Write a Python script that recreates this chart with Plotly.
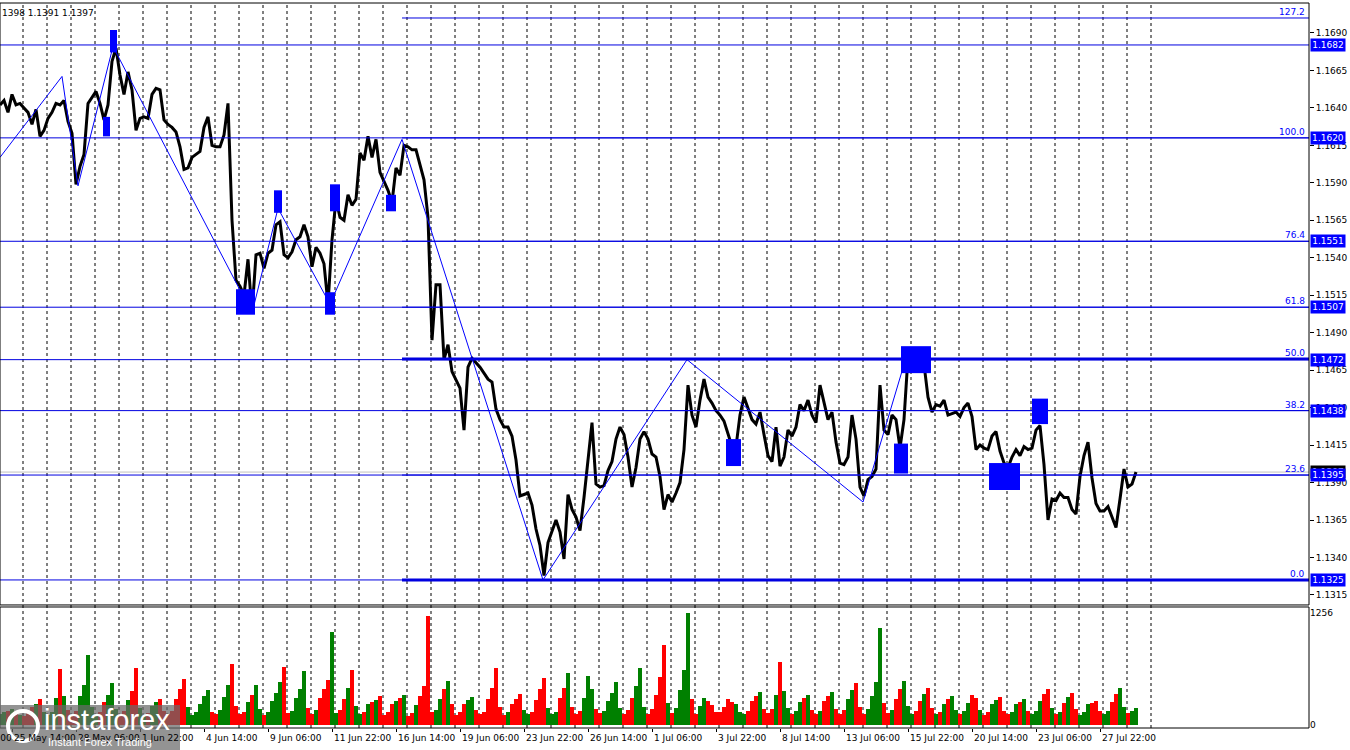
import plotly.graph_objects as go

# EURUSD H1, one close every 4 bars
bar_step = 4
price_close = [
    1.1642, 1.1645, 1.1637, 1.1649, 1.1642, 1.1643, 1.1640, 1.1637, 1.1629, 1.1639,
    1.1621, 1.1625, 1.1633, 1.1637, 1.1643, 1.1642, 1.1645, 1.1631, 1.1623, 1.1589,
    1.1601, 1.1609, 1.1643, 1.1647, 1.1651, 1.1643, 1.1632, 1.1642, 1.1671, 1.1680,
    1.1662, 1.1649, 1.1664, 1.1652, 1.1625, 1.1633, 1.1634, 1.1633, 1.1649, 1.1653,
    1.1652, 1.1632, 1.1629, 1.1627, 1.1624, 1.1614, 1.1599, 1.1600, 1.1607, 1.1609,
    1.1611, 1.1627, 1.1634, 1.1615, 1.1614, 1.1614, 1.1622, 1.1643, 1.1565, 1.1525,
    1.1521, 1.1515, 1.1539, 1.1503, 1.1542, 1.1543, 1.1533, 1.1543, 1.1545, 1.1562,
    1.1564, 1.1542, 1.1540, 1.1544, 1.1552, 1.1554, 1.1562, 1.1554, 1.1534, 1.1547,
    1.1543, 1.1536, 1.1509, 1.1552, 1.1579, 1.1567, 1.1565, 1.1582, 1.1575, 1.1579,
    1.1610, 1.1605, 1.1621, 1.1607, 1.1619, 1.1597, 1.1591, 1.1585, 1.1577, 1.1600,
    1.1595, 1.1615, 1.1614, 1.1612, 1.1612, 1.1601, 1.1592, 1.1567, 1.1485, 1.1522,
    1.1522, 1.1472, 1.1482, 1.1464, 1.1459, 1.1453, 1.1425, 1.1467, 1.1473, 1.1470,
    1.1467, 1.1463, 1.1459, 1.1457, 1.1439, 1.1432, 1.1427, 1.1427, 1.1421, 1.1405,
    1.1381, 1.1382, 1.1383, 1.1375, 1.1359, 1.1348, 1.1328, 1.1350, 1.1357, 1.1365,
    1.1357, 1.1339, 1.1382, 1.1372, 1.1367, 1.1358, 1.1380, 1.1405, 1.1430, 1.1389,
    1.1387, 1.1388, 1.1398, 1.1404, 1.1419, 1.1427, 1.1422, 1.1407, 1.1387, 1.1400,
    1.1419, 1.1424, 1.1419, 1.1409, 1.1407, 1.1394, 1.1372, 1.1382, 1.1377, 1.1383,
    1.1390, 1.1412, 1.1455, 1.1435, 1.1427, 1.1445, 1.1459, 1.1447, 1.1443, 1.1438,
    1.1435, 1.1431, 1.1422, 1.1414, 1.1414, 1.1435, 1.1447, 1.1439, 1.1432, 1.1429,
    1.1437, 1.1422, 1.1408, 1.1404, 1.1427, 1.1401, 1.1407, 1.1425, 1.1421, 1.1427,
    1.1442, 1.1438, 1.1445, 1.1435, 1.1430, 1.1455, 1.1443, 1.1432, 1.1437, 1.1417,
    1.1403, 1.1402, 1.1407, 1.1435, 1.1419, 1.1387, 1.1381, 1.1392, 1.1394, 1.1399,
    1.1455, 1.1425, 1.1422, 1.1435, 1.1432, 1.1413, 1.1432, 1.1474, 1.1474, 1.1469,
    1.1467, 1.1469, 1.1447, 1.1437, 1.1442, 1.1441, 1.1445, 1.1435, 1.1436, 1.1437,
    1.1434, 1.1440, 1.1443, 1.1434, 1.1412, 1.1415, 1.1413, 1.1412, 1.1421, 1.1424,
    1.1411, 1.1403, 1.1400, 1.1407, 1.1412, 1.1408, 1.1414, 1.1412, 1.1413, 1.1425,
    1.1428, 1.1402, 1.1365, 1.1379, 1.1378, 1.1383, 1.1380, 1.1380, 1.1372, 1.1369,
    1.1394, 1.1408, 1.1417, 1.1393, 1.1376, 1.1371, 1.1371, 1.1374, 1.1367, 1.1360,
    1.1379, 1.1399, 1.1387, 1.1389, 1.1397,
]
volume = [
    120, 140, 160, 180, 150, 110,   100, 140, 200, 240, 290, 150,
    110, 150, 300, 625, 330, 170,   100, 160, 320, 450, 780, 200,
    110, 150, 260, 340, 470, 180,   120, 160, 280, 380, 640, 190,
    100, 130, 210, 260, 295, 160,   120, 160, 290, 400, 510, 200,
    110, 150, 240, 320, 390, 150,   120, 170, 310, 450, 680, 210,
    120, 150, 260, 340, 445, 180,   110, 140, 270, 360, 480, 650,
    130, 160, 300, 400, 607, 190,   120, 170, 300, 400, 500, 1040,
    130, 170, 290, 420, 620, 210,   120, 150, 240, 260, 280, 330,
    110, 140, 230, 270, 300, 335,   100, 130, 220, 330, 440, 1225,
    140, 170, 290, 400, 497, 230,   110, 140, 230, 280, 316, 170,
    120, 150, 290, 420, 637, 200,   110, 140, 230, 290, 350, 170,
    120, 150, 280, 400, 526, 190,   120, 150, 300, 420, 580, 200,
    120, 160, 300, 545, 400, 180,   130, 160, 270, 360, 480, 190,
    120, 170, 300, 440, 637, 200,   120, 180, 340, 540, 895, 250,
    130, 190, 390, 620, 1255, 290,  120, 210, 305, 270, 220, 140,
    140, 200, 287, 260, 230, 150,   120, 160, 270, 330, 372, 180,
    130, 180, 340, 703, 380, 190,   120, 160, 260, 300, 335, 170,
    120, 160, 270, 330, 372, 180,   120, 170, 290, 390, 471, 200,
    120, 180, 320, 480, 1090, 250,  130, 170, 290, 400, 490, 210,
    120, 160, 270, 350, 416, 190,   120, 150, 240, 290, 324, 170,
    120, 160, 250, 331, 300, 170,   110, 150, 240, 280, 316, 160,
    120, 150, 230, 260, 287, 160,   120, 160, 270, 350, 408, 190,
    120, 150, 250, 310, 353, 180,   110, 150, 230, 250, 269, 160,
    120, 160, 260, 350, 416, 200,   130, 160, 190,
]

zigzag_bar = [0, 62, 78, 113, 252, 278, 330, 402, 543, 687, 863, 905]
zigzag_price = [1.1607, 1.1661, 1.1588, 1.1681, 1.1503, 1.1573, 1.1509, 1.1619,
                1.1325, 1.1472, 1.1377, 1.1471]

level_prices = [1.1682, 1.1620, 1.1551, 1.1507, 1.1472, 1.1438, 1.1395, 1.1325]
fibo_labels = ["127.2", "100.0", "76.4", "61.8", "50.0", "38.2", "23.6", "0.0"]
fibo_prices = [1.1700, 1.1620, 1.1551, 1.1507, 1.14725, 1.1438, 1.1395, 1.1325]
fibo_thick = ["50.0", "0.0"]
fibo_start_bar = 402
last_price = 1.1397

marker_bar0 = [110, 103, 236, 274, 330, 325, 386, 726, 901, 894, 989, 1032]
marker_bar1 = [117, 110, 255, 282, 340, 335, 396, 741, 931, 908, 1020, 1048]
marker_hi = [1.1692, 1.1634, 1.1519, 1.1585, 1.1589, 1.1517, 1.1582, 1.1419,
             1.1481, 1.1416, 1.1403, 1.1446]
marker_lo = [1.1677, 1.1621, 1.1502, 1.1570, 1.1571, 1.1502, 1.1571, 1.1401,
             1.1463, 1.1396, 1.1385, 1.1429]

date_labels = ["20 May 22:00", "25 May 14:00", "28 May 06:00", "1 Jun 22:00",
               "4 Jun 14:00", "9 Jun 06:00", "11 Jun 22:00", "16 Jun 14:00",
               "19 Jun 06:00", "23 Jun 22:00", "26 Jun 14:00", "1 Jul 06:00",
               "3 Jul 22:00", "8 Jul 14:00", "13 Jul 06:00", "15 Jul 22:00",
               "20 Jul 14:00", "23 Jul 06:00", "27 Jul 22:00"]
price_ticks = ["1.1315", "1.1340", "1.1365", "1.1390", "1.1415", "1.1440",
               "1.1465", "1.1490", "1.1515", "1.1540", "1.1565", "1.1590",
               "1.1615", "1.1640", "1.1665", "1.1690"]
header_text = "1398 1.1391 1.1397"

X_MAX = 1309
FIRST_LABEL_BAR = -52
LABEL_EVERY = 64
FIRST_MIDNIGHT = 23
BLUE = "#0000ff"
LINE_BLUE = "#0000e0"
FONT = "DejaVu Sans"

bars = [i * bar_step for i in range(len(price_close))]
vol_bars = [i * bar_step for i in range(len(volume))]
vol_colors = []
for i in range(len(volume)):
    prev = price_close[i - 1] if i > 0 else price_close[0]
    cur = price_close[min(i, len(price_close) - 1)]
    vol_colors.append("#008000" if cur >= prev else "#ff0000")

fig = go.Figure()
fig.add_trace(go.Scatter(x=bars, y=price_close, mode="lines",
                         line=dict(color="black", width=3), hoverinfo="skip"))
fig.add_trace(go.Scatter(x=zigzag_bar, y=zigzag_price, mode="lines",
                         line=dict(color=BLUE, width=1), hoverinfo="skip"))
fig.add_trace(go.Bar(x=vol_bars, y=volume, width=3.4, marker=dict(color=vol_colors, line=dict(width=0)),
                     yaxis="y2", hoverinfo="skip"))

shapes = []
# daily dashed grid
gx = FIRST_MIDNIGHT
last_bar = bars[-1]
while gx <= last_bar + 24:
    shapes.append(dict(type="line", xref="x", yref="paper", x0=gx, x1=gx, y0=0, y1=1,
                       line=dict(color="black", width=1, dash="3px,3px"), layer="below"))
    gx += 24

# current price line
shapes.append(dict(type="line", xref="x", yref="y", x0=0, x1=X_MAX, y0=last_price, y1=last_price,
                   line=dict(color="#c0c0c0", width=1), layer="below"))

# horizontal levels, full width
for lv in level_prices:
    shapes.append(dict(type="line", xref="x", yref="y", x0=0, x1=X_MAX, y0=lv, y1=lv,
                       line=dict(color=LINE_BLUE, width=1), layer="above"))

# fibo levels from the swing high
for lab, fp in zip(fibo_labels, fibo_prices):
    w = 3 if lab in fibo_thick else 1
    shapes.append(dict(type="line", xref="x", yref="y", x0=fibo_start_bar, x1=X_MAX, y0=fp, y1=fp,
                       line=dict(color=LINE_BLUE, width=w), layer="above"))

for b0, b1, hi, lo in zip(marker_bar0, marker_bar1, marker_hi, marker_lo):
    shapes.append(dict(type="rect", xref="x", yref="y", x0=b0, x1=b1, y0=lo, y1=hi,
                       fillcolor=BLUE, line=dict(width=0), layer="above"))

# pane borders
shapes.append(dict(type="rect", xref="paper", yref="y domain", x0=0, x1=1, y0=0, y1=1,
                   line=dict(color="black", width=1)))
shapes.append(dict(type="rect", xref="paper", yref="y2 domain", x0=0, x1=1, y0=0, y1=1,
                   line=dict(color="black", width=1)))

# watermark box
shapes.append(dict(type="rect", xref="paper", yref="paper", x0=0, x1=180 / X_MAX,
                   y0=-22 / 725, y1=23 / 725, fillcolor="rgba(105,105,105,0.72)",
                   line=dict(width=0), layer="above"))
shapes.append(dict(type="circle", xref="paper", yref="paper", x0=8 / X_MAX, x1=38 / X_MAX,
                   y0=-13 / 725, y1=17 / 725, line=dict(color="white", width=4), layer="above"))

annotations = []
for k, lab in enumerate(date_labels):
    pos = FIRST_LABEL_BAR + LABEL_EVERY * k
    annotations.append(dict(text=lab, xref="paper", yref="paper", x=pos / X_MAX, y=0,
                            xanchor="left", yanchor="top", yshift=-3, showarrow=False,
                            font=dict(family=FONT, size=9, color="black")))

for lab, fp in zip(fibo_labels, fibo_prices):
    annotations.append(dict(text=lab, xref="paper", yref="y", x=1, y=fp, xanchor="right",
                            yanchor="bottom", xshift=-2, yshift=-1, showarrow=False,
                            font=dict(family=FONT, size=9, color=BLUE)))

annotations.append(dict(text=f"{last_price:.4f}", xref="paper", yref="y", x=1, y=last_price,
                        xanchor="left", yanchor="middle", xshift=1, showarrow=False,
                        bgcolor="black", width=34, height=12, borderpad=0,
                        font=dict(family=FONT, size=9, color="white")))
for lv in level_prices:
    annotations.append(dict(text=f"{lv:.4f}", xref="paper", yref="y", x=1, y=lv,
                            xanchor="left", yanchor="middle", xshift=1, showarrow=False,
                            bgcolor=BLUE, width=34, height=12, borderpad=0,
                            font=dict(family=FONT, size=9, color="white")))

annotations.append(dict(text=header_text, xref="paper", yref="paper", x=0, y=1,
                        xanchor="left", yanchor="top", yshift=-3, showarrow=False,
                        font=dict(family=FONT, size=9, color="black")))

annotations.append(dict(text="instaforex", xref="paper", yref="paper", x=42 / X_MAX, y=8 / 725,
                        xanchor="left", yanchor="middle", showarrow=False,
                        font=dict(family="Liberation Sans", size=29, color="white")))
annotations.append(dict(text="Instant Forex Trading", xref="paper", yref="paper", x=46 / X_MAX,
                        y=-14 / 725, xanchor="left", yanchor="middle", showarrow=False,
                        font=dict(family="Liberation Sans", size=11, color="white")))

tick_bars = [FIRST_LABEL_BAR + LABEL_EVERY * k for k in range(len(date_labels))]
tick_bars = [t for t in tick_bars if 0 <= t <= X_MAX]

fig.update_layout(
    width=1350,
    height=750,
    margin=dict(l=0, r=41, t=3, b=22),
    paper_bgcolor="white",
    plot_bgcolor="white",
    showlegend=False,
    bargap=0,
    hovermode=False,
    shapes=shapes,
    annotations=annotations,
    font=dict(family=FONT, size=9, color="black"),
    xaxis=dict(range=[0, X_MAX], anchor="y2", showgrid=False, zeroline=False, showline=False,
               tickvals=tick_bars, ticks="outside", ticklen=3, tickcolor="black",
               showticklabels=False, fixedrange=True),
    yaxis=dict(domain=[0.1697, 1], range=[1.13083, 1.17100], side="right",
               tickvals=[float(t) for t in price_ticks], ticktext=price_ticks,
               ticks="outside", ticklen=4, tickcolor="black", showgrid=False, zeroline=False,
               tickfont=dict(family=FONT, size=9, color="black")),
    yaxis2=dict(domain=[0, 0.1669], range=[-34, 1323], side="right",
                tickvals=[0, 1256], ticktext=["0", "1256"], ticks="", showgrid=False,
                zeroline=False, tickfont=dict(family=FONT, size=9, color="black")),
)

# the page's default body margin would push the chart 8px in
fig.write_html("out.html", config={"displayModeBar": False},
               post_script="document.body.style.margin='0';document.body.style.overflow='hidden';")
